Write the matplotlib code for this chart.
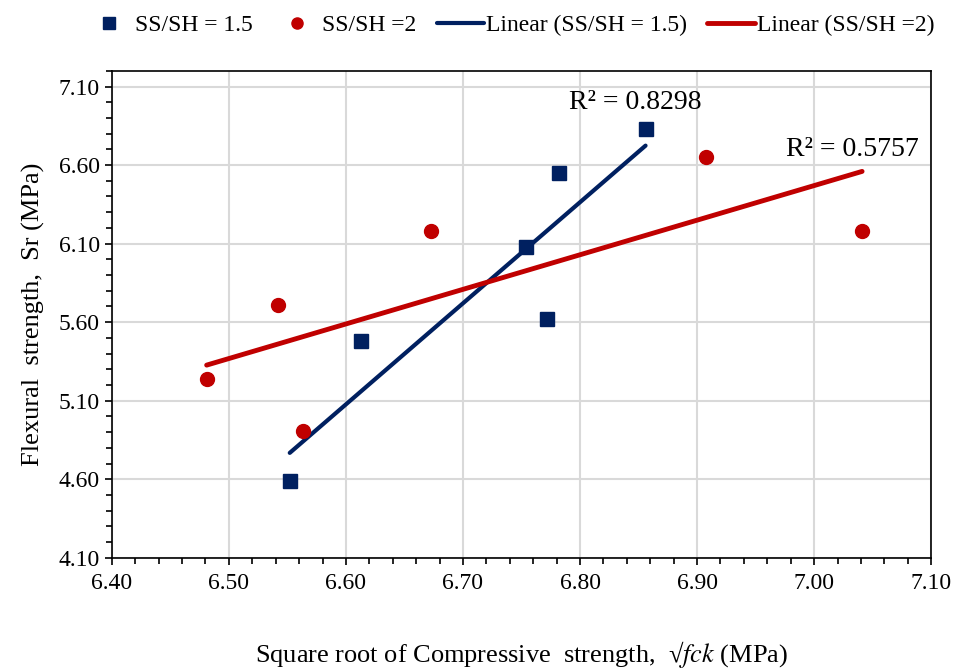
import matplotlib
matplotlib.use("Agg")
import matplotlib.pyplot as plt
import numpy as np
from matplotlib.ticker import MultipleLocator

plt.rcParams['font.family'] = ['Liberation Serif', 'DejaVu Serif']
plt.rcParams['mathtext.fontset'] = 'stix'

# data
x15 = [6.552, 6.613, 6.754, 6.772, 6.782, 6.856]
y15 = [4.59, 5.48, 6.08, 5.62, 6.55, 6.83]
x20 = [6.481, 6.542, 6.563, 6.673, 6.908, 7.041]
y20 = [5.24, 5.71, 4.91, 6.18, 6.65, 6.18]
r2_15 = "R² = 0.8298"
r2_20 = "R² = 0.5757"

blue = "#002060"
red = "#C00000"

fig = plt.figure(figsize=(9.56, 6.68), dpi=100)
ax = fig.add_axes([0.117, 0.165, 0.857, 0.729])

ax.plot(x15, y15, 's', color=blue, markersize=10, label="SS/SH = 1.5", zorder=4)
ax.plot(x20, y20, 'o', color=red, markersize=10, label="SS/SH =2", zorder=4)

# linear trendlines over the data range
p15 = np.polyfit(x15, y15, 1)
xx15 = np.array([min(x15), max(x15)])
ax.plot(xx15, np.polyval(p15, xx15), '-', color=blue, linewidth=3,
        solid_capstyle='round', label="Linear (SS/SH = 1.5)", zorder=3)
p20 = np.polyfit(x20, y20, 1)
xx20 = np.array([min(x20), max(x20)])
ax.plot(xx20, np.polyval(p20, xx20), '-', color=red, linewidth=3.5,
        solid_capstyle='round', label="Linear (SS/SH =2)", zorder=3)

ax.text(6.791, 7.00, r2_15, fontsize=20, ha='left', va='center')
ax.text(6.976, 6.70, r2_20, fontsize=20, ha='left', va='center')

ax.set_xlim(6.40, 7.10)
ax.set_ylim(4.10, 7.20)
ax.xaxis.set_major_locator(MultipleLocator(0.1))
ax.xaxis.set_minor_locator(MultipleLocator(0.02))
ax.set_yticks(np.arange(4.10, 7.11, 0.5))
ax.yaxis.set_minor_locator(MultipleLocator(0.1))
ax.xaxis.set_major_formatter(matplotlib.ticker.FormatStrFormatter('%.2f'))
ax.yaxis.set_major_formatter(matplotlib.ticker.FormatStrFormatter('%.2f'))
ax.tick_params(axis='both', which='major', labelsize=17, length=5, width=1.2, direction='out')
ax.tick_params(axis='both', which='minor', length=4, width=1.2, direction='out')
ax.tick_params(axis='x', pad=6)
ax.grid(True, which='major', color='#d9d9d9', linewidth=1.5)
ax.set_axisbelow(True)
for s in ax.spines.values():
    s.set_linewidth(1.2)
    s.set_color('black')

ax.set_xlabel("Square root of Compressive  strength,  √$fck$ (MPa)", fontsize=19, labelpad=32)
ax.set_ylabel("Flexural  strength,  Sr (MPa)", fontsize=19, labelpad=10)

fig.legend(loc='upper center', bbox_to_anchor=(0.5335, 1.01), ncol=4, frameon=False,
           fontsize=17, handlelength=2.0, columnspacing=0.85, handletextpad=0.1,
           markerscale=0.8)

fig.savefig("out.png", dpi=100)
